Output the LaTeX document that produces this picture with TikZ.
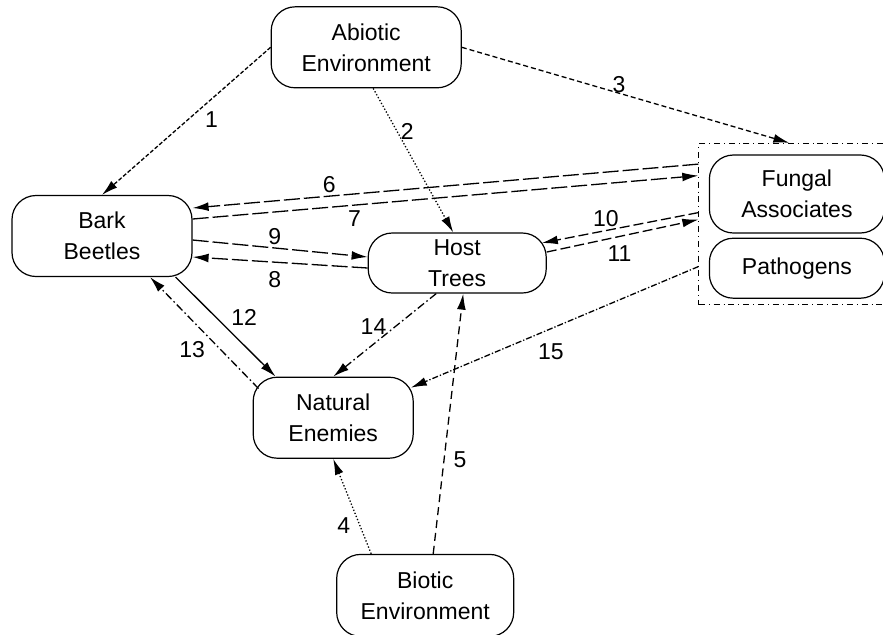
\documentclass[tikz,border=0pt]{standalone}
\usepackage{fontspec}
\setmainfont{Liberation Sans}
\usetikzlibrary{arrows.meta,positioning,fit}

\begin{document}
\begin{tikzpicture}[x=0.5pt,y=-0.5pt, every node/.style={font=\fontsize{11.5}{15.5}\selectfont}, box/.style={draw,rounded corners=12pt,align=center,inner sep=0pt,line width=.6pt}, arr/.style={-{Latex[length=8pt,width=4.4pt]},line width=.65pt}, num/.style={inner sep=1.5pt}, longdash/.style={dash pattern=on 8pt off 2pt}, middash/.style={dash pattern=on 5pt off 2pt}, shortdash/.style={dash pattern=on 2.5pt off 1.5pt}, finedash/.style={dash pattern=on 2pt off 1pt}, dashdot/.style={dash pattern=on 4pt off 1.5pt on .8pt off 1.5pt}]
\useasboundingbox (0,0) rectangle (883,634);
\node[box,minimum width=90pt,minimum height=40.5pt] (bark) at (102,236) {Bark\\Beetles};
\node[box,minimum width=89pt,minimum height=30pt,right=87.5pt of bark,yshift=-13.5pt] (host) {Host\\Trees};
\node[box,minimum width=95pt,minimum height=40.5pt,above=72pt of host,xshift=-45.5pt] (abio) {Abiotic\\Environment};
\node[box,minimum width=87.5pt,minimum height=39pt,right=81pt of host,yshift=34.5pt] (fung) {Fungal\\Associates};
\node[box,minimum width=87.5pt,minimum height=30pt,below=2pt of fung] (path) {Pathogens};
\node[box,minimum width=80pt,minimum height=40.5pt,below=41.5pt of host,xshift=-62pt] (nat) {Natural\\Enemies};
\node[box,minimum width=88.5pt,minimum height=41pt,below=47.5pt of nat,xshift=46pt] (bio) {Biotic\\Environment};
\node[draw,dash dot,line width=.5pt,fit=(fung)(path),inner xsep=5pt,inner ysep=4.25pt,yshift=1.25pt] (grp) {};
% environment links
\draw[arr,finedash] (abio.west) -- node[num,pos=.41,below right] {1} (bark.north);
\draw[arr,densely dotted] ([xshift=3.5pt]abio.south) -- node[num,pos=.3,right] {2} ([xshift=-2pt]host.north);
\draw[arr,shortdash] (abio.east) -- node[num,pos=.48,above,inner sep=0pt] {3} ([xshift=-3.75pt]grp.north);
\draw[arr,densely dotted] ([xshift=-27pt]bio.north) -- node[num,pos=.3,left=3pt] {4} (nat.south);
\draw[arr,dash pattern=on 4pt off 2.5pt] ([xshift=4pt]bio.north) -- node[num,pos=.36,right=3pt] {5} ([xshift=3pt]host.south);
% beetles, trees, fungi
\draw[arr,longdash] ([yshift=30pt]grp.west) -- node[num,pos=.73,above] {6} ([yshift=14pt]bark.east);
\draw[arr,longdash] ([yshift=8.5pt]bark.east) -- node[num,pos=.32,below=1pt] {7} ([yshift=24.25pt]grp.west);
\draw[arr,longdash] ([yshift=-2pt]bark.east) -- node[num,pos=.47,above] {9} ([yshift=3pt]host.west);
\draw[arr,longdash] ([yshift=-2.5pt]host.west) -- node[num,pos=.53,below=3pt] {8} ([yshift=-10.5pt]bark.east);
\draw[arr,middash] ([yshift=5.75pt]grp.west) -- node[num,pos=.59,above] {10} ([xshift=-2.5pt,yshift=10pt]host.east);
\draw[arr,middash] ([yshift=5.5pt]host.east) -- node[num,pos=.48,below=3pt] {11} ([yshift=2.25pt]grp.west);
% natural enemies
\draw[arr] ([xshift=-8.5pt]bark.south east) -- node[num,pos=.52,above right] {12} ([xshift=11.5pt]nat.north west);
\draw[arr,dashdot] ([xshift=3pt,yshift=-6pt]nat.north west) -- node[num,pos=.46,below left] {13} ([xshift=24pt]bark.south);
\draw[arr,dashdot] ([xshift=-10.5pt]host.south) -- node[num,pos=.49,above left=-3pt] {14} (nat.north);
\draw[arr,densely dashdotted] ([yshift=-21.25pt]grp.west) -- node[num,pos=.58,below right=2pt] {15} ([xshift=-1.5pt,yshift=15pt]nat.east);
\end{tikzpicture}
\end{document}
